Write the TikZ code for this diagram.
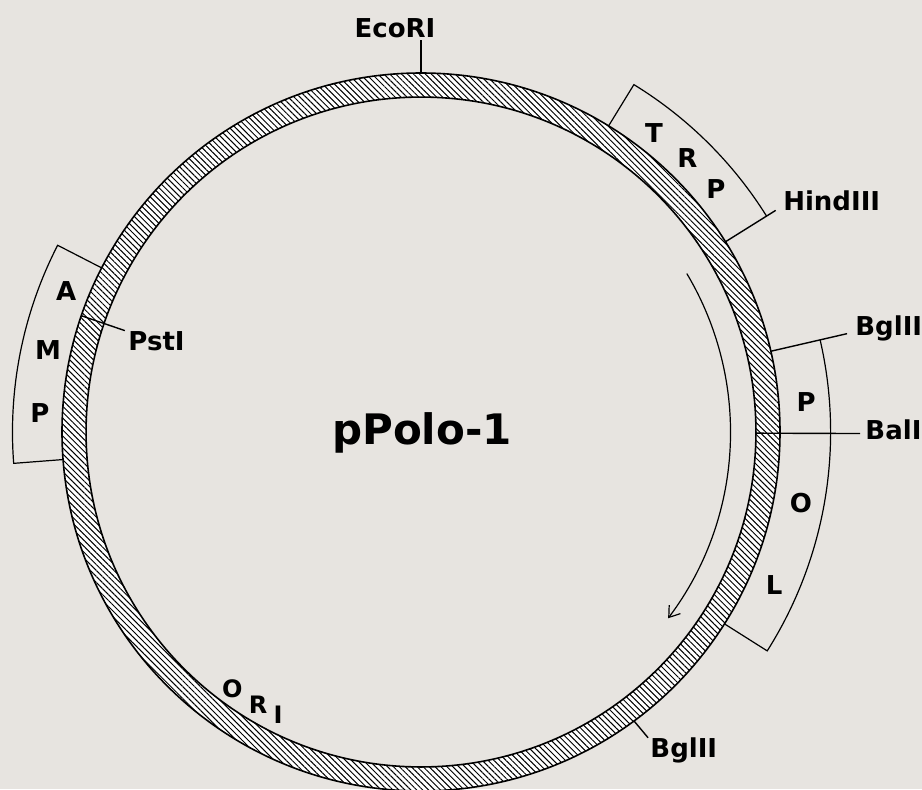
\documentclass[tikz,border=0pt]{standalone}
\usepackage{fontspec}
\setmainfont{DejaVu Sans}
\usetikzlibrary{patterns.meta,arrows.meta}
\definecolor{paper}{RGB}{231,228,224}
\begin{document}
\begin{tikzpicture}[x=0.5pt,y=-0.5pt,
  lbl/.style={font=\bfseries\fontsize{13}{15}\selectfont, inner sep=0pt},
  small/.style={font=\bfseries\fontsize{12}{14}\selectfont, inner sep=0pt},
  title/.style={font=\bfseries\fontsize{21}{24}\selectfont, inner sep=0pt},
  seg/.style={line width=0.6pt},
  tick/.style={line width=0.7pt}]
\fill[paper] (0,0) rectangle (922,789);
\useasboundingbox (0,0) rectangle (922,789);
\begin{scope}[shift={(421,432)}, x=179.5pt, y=179.5pt]
  % plasmid ring
  \fill[white, even odd rule] (0,0) circle[radius=1] (0,0) circle[radius=0.933];
  \fill[pattern={Lines[angle=-45,distance=2.1pt,line width=0.5pt]}, even odd rule]
    (0,0) circle[radius=1] (0,0) circle[radius=0.933];
  \draw[line width=0.8pt] (0,0) circle[radius=1] (0,0) circle[radius=0.933];

  % EcoRI
  \coordinate (eco) at (90:1);
  \coordinate (ecoE) at (90:1.092);
  \draw[tick] (eco) -- (ecoE);
  \node[lbl, anchor=base] (ecoL) at (-0.0724,1.100) {EcoRI};

  % TRP box and HindIII
  \coordinate (trpA) at (58.5:1);
  \coordinate (trpB) at (58.5:1.135);
  \coordinate (hind) at (32:1);
  \coordinate (hindE) at (32:1.165);
  \draw[seg] (trpA) -- (trpB) arc[start angle=58.5,end angle=32,radius=1.135];
  \draw[tick] (hind) -- (hindE);
  \node[lbl] (trpT) at (52.1:1.056) {T};
  \node[lbl] (trpR) at (45.8:1.064) {R};
  \node[lbl] (trpP) at (39.5:1.065) {P};
  \node[lbl, anchor=base west] (hindL) at (1.008,0.618) {HindIII};

  % POL box, BglII and BalI
  \coordinate (bgl) at (13:1);
  \coordinate (bglE) at (13:1.218);
  \coordinate (polA) at (13:1.141);
  \coordinate (polB) at (-32.3:1);
  \draw[tick] (bgl) -- (bglE);
  \draw[seg] (polA) arc[start angle=13,end angle=-32.3,radius=1.141] -- (polB);
  \coordinate (bal) at (-0.2:0.933);
  \coordinate (balE) at (-0.2:1.223);
  \draw[tick] (bal) -- (balE);
  \node[lbl, anchor=base west] (bglL) at (1.209,0.270) {BglII};
  \node[lbl, anchor=base west] (balL) at (1.237,-0.022) {BalI};
  \node[lbl] (polP) at (4.5:1.076) {P};
  \node[lbl] (polO) at (-10.6:1.077) {O};
  \node[lbl] (polL) at (-23.4:1.072) {L};

  % lower BglII
  \coordinate (bgl2) at (-53.6:1);
  \coordinate (bgl2E) at (-53.4:1.061);
  \draw[tick] (bgl2) -- (bgl2E);
  \node[lbl, anchor=base west] (bgl2L) at (0.638,-0.908) {BglII};

  % AMP box and PstI
  \coordinate (ampA) at (152.8:1);
  \coordinate (ampB) at (152.8:1.138);
  \coordinate (ampC) at (184.4:1);
  \draw[seg] (ampA) -- (ampB) arc[start angle=152.8,end angle=184.4,radius=1.138] -- (ampC);
  \node[lbl] (ampA1) at (158.3:1.064) {A};
  \node[lbl] (ampM) at (167.6:1.064) {M};
  \node[lbl] (ampP) at (177.1:1.063) {P};
  \coordinate (pst) at (161.1:1);
  \coordinate (pstE) at (161.1:0.872);
  \draw[tick] (pst) -- (pstE);
  \node[lbl, anchor=base west] (pstL) at (-0.816,0.228) {PstI};

  % ORI
  \node[small] (oriO) at (-126.3:0.888) {O};
  \node[small] (oriR) at (-120.8:0.886) {R};
  \node[small] (oriI) at (-116.8:0.883) {I};

  % transcription arrow
  \coordinate (arrS) at (30.8:0.862);
  \draw[line width=0.6pt, -{Straight Barb[length=5pt,width=7pt]}]
    (arrS) arc[start angle=30.8,end angle=-37,radius=0.862];

  % name
  \node[title, anchor=base] (name) at (0.003,-0.036) {pPolo-1};
\end{scope}
\end{tikzpicture}
\end{document}
